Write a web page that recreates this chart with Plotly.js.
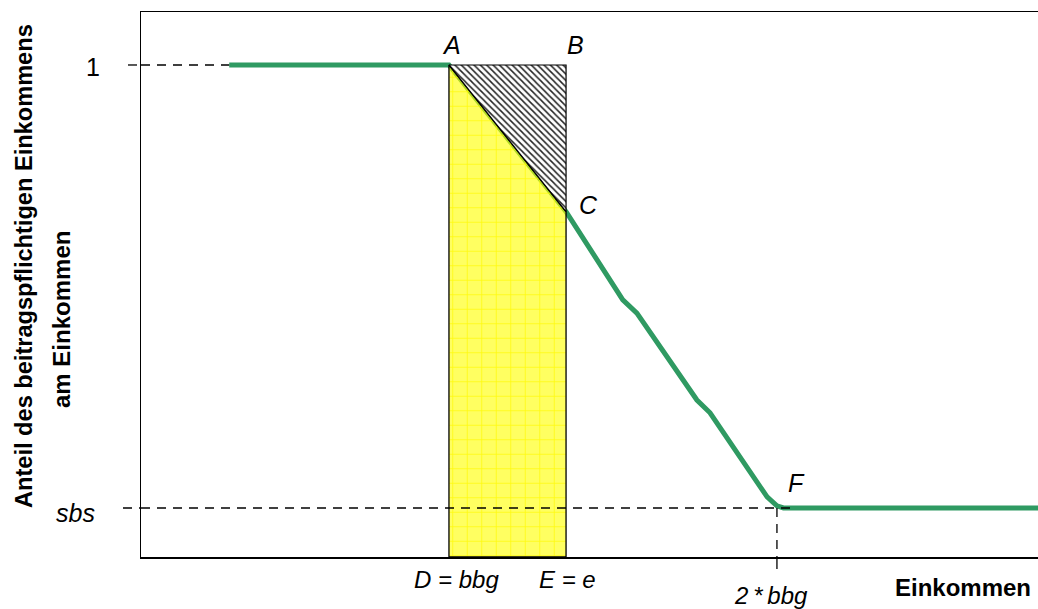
<!DOCTYPE html>
<html>
<head>
<meta charset="utf-8">
<script src="https://cdn.plot.ly/plotly-3.0.1.min.js"></script>
<style>html,body{margin:0;padding:0;background:#fff;}#chart{width:1038px;height:609px;}</style>
</head>
<body>
<div id="chart"></div>
<script>
// ---- data (income in units of bbg, share of contributory income) ----
const incomeX = [0.33, 1.0, 1.357, 1.53, 1.573, 1.756, 1.796, 1.887, 1.97, 2.0, 2.02, 2.8];
const shareY  = [1.0, 1.0, 0.735, 0.576, 0.552, 0.395, 0.372, 0.292, 0.22, 0.204, 0.2, 0.2];
const bbg = 1.0;          // D = bbg
const eVal = 1.357;       // E = e
const shareAtE = 0.735;   // C
const sbs = 0.2;          // sbs level
const twoBbg = 2.0;       // 2*bbg
const pointLabels = ['A', 'B', 'C', 'F'];
const xTickLabels = ['D = bbg', 'E = e', '2\u2009*\u2009bbg'];
const yTickLabels = ['sbs', '1'];
const xTitle = 'Einkommen';
const yTitleLines = ['Anteil des beitragspflichtigen Einkommens', 'am Einkommen'];

const xRange = [0.061, 2.796];
const yRange = [0.1115, 1.0957];
const FONT = 'Arial, "Liberation Sans", sans-serif';
const green = '#2f9a62';

const traces = [
  { x: incomeX, y: shareY, mode: 'lines', line: {color: green, width: 5}, hoverinfo: 'skip' },
  { x: [bbg, bbg, eVal, eVal, bbg], y: [yRange[0], 1, shareAtE, yRange[0], yRange[0]],
    mode: 'lines', fill: 'toself', line: {color: '#000', width: 1.3},
    fillcolor: 'rgba(255,255,0,0.62)',
    fillpattern: {shape: '+', bgcolor: 'rgba(255,255,0,0.62)', fgcolor: 'rgba(255,250,0,1)', fgopacity: 0.9, size: 14.5, solidity: 0.1},
    hoverinfo: 'skip' },
  { x: [bbg, eVal, eVal, bbg], y: [1, 1, shareAtE, 1], mode: 'lines', fill: 'toself',
    line: {color: '#000', width: 1.2}, fillcolor: '#fff',
    fillpattern: {shape: '\\', bgcolor: '#fff', fgcolor: '#222', fgopacity: 1, size: 4.5, solidity: 0.33},
    hoverinfo: 'skip' }
];

const W = 1038 - 141, H = 557 - 12;
const dash = '9px,7px';
const dl = {color: '#000', width: 1.3, dash: dash};
const shapes = [
  {type: 'line', xref: 'paper', yref: 'y', x0: -13 / W, x1: 0, y0: 1, y1: 1, line: dl},
  {type: 'line', xref: 'x', yref: 'y', x0: xRange[0], x1: incomeX[0], y0: 1, y1: 1, line: dl},
  {type: 'line', xref: 'paper', yref: 'y', x0: -18 / W, x1: 0, y0: sbs, y1: sbs, line: dl},
  {type: 'line', xref: 'x', yref: 'y', x0: xRange[0], x1: 2.045, y0: sbs, y1: sbs, line: dl},
  {type: 'line', xref: 'x', yref: 'y', x0: twoBbg, x1: twoBbg, y0: sbs, y1: yRange[0], line: dl},
  {type: 'line', xref: 'x', yref: 'paper', x0: twoBbg, x1: twoBbg, y0: 0, y1: -21 / H, line: {color: '#000', width: 1.3, dash: '12px,9px'}}
];

const f = size => ({family: FONT, size: size, color: '#000'});
const it = s => '<i>' + s + '</i>';
const A = (o) => Object.assign({showarrow: false, xanchor: 'center', yanchor: 'middle'}, o);
const ann = [
  A({x: bbg, y: 1, xref: 'x', yref: 'y', text: it(pointLabels[0]), xshift: 3, yshift: 20, font: f(25)}),
  A({x: eVal, y: 1, xref: 'x', yref: 'y', text: it(pointLabels[1]), xshift: 9, yshift: 20, font: f(25)}),
  A({x: eVal, y: shareAtE, xref: 'x', yref: 'y', text: it(pointLabels[2]), xshift: 22, yshift: 7, font: f(25)}),
  A({x: twoBbg, y: sbs, xref: 'x', yref: 'y', text: it(pointLabels[3]), xshift: 20, yshift: 25, font: f(25)}),
  A({x: bbg, y: 0, xref: 'x', yref: 'paper', text: it(xTickLabels[0]), xshift: 8, yshift: -22, font: f(24)}),
  A({x: eVal, y: 0, xref: 'x', yref: 'paper', text: it(xTickLabels[1]), xshift: 1, yshift: -22, font: f(24)}),
  A({x: twoBbg, y: 0, xref: 'x', yref: 'paper', text: it(xTickLabels[2]), xshift: -6, yshift: -38, font: f(24)}),
  A({x: (963 - 141) / W, y: 0, xref: 'paper', yref: 'paper', text: '<b>' + xTitle + '</b>', yshift: -30, font: f(24)}),
  A({x: (75 - 141) / W, y: sbs, xref: 'paper', yref: 'y', text: it(yTickLabels[0]), yshift: -5, font: f(25)}),
  A({x: (93 - 141) / W, y: 1, xref: 'paper', yref: 'y', text: yTickLabels[1], yshift: -2, font: f(25)}),
  A({x: (24 - 141) / W, y: (557 - 266) / H, xref: 'paper', yref: 'paper', text: '<b>' + yTitleLines[0] + '</b>', textangle: -90, font: f(23.6)}),
  A({x: (61 - 141) / W, y: (557 - 320) / H, xref: 'paper', yref: 'paper', text: '<b>' + yTitleLines[1] + '</b>', textangle: -90, font: f(24)})
];

const layout = {
  width: 1038, height: 609,
  margin: {l: 141, r: 0, t: 12, b: 52, pad: 0},
  paper_bgcolor: '#fff', plot_bgcolor: '#fff',
  showlegend: false,
  xaxis: {range: xRange, showgrid: false, zeroline: false, showticklabels: false, ticks: '',
          showline: true, mirror: true, linecolor: '#000', linewidth: 1.5, fixedrange: true},
  yaxis: {range: yRange, showgrid: false, zeroline: false, showticklabels: false, ticks: '',
          showline: true, mirror: false, linecolor: '#000', linewidth: 1.5, fixedrange: true},
  shapes: shapes,
  annotations: ann
};
Plotly.newPlot('chart', traces, layout, {displayModeBar: false, staticPlot: true});
</script>
</body>
</html>
